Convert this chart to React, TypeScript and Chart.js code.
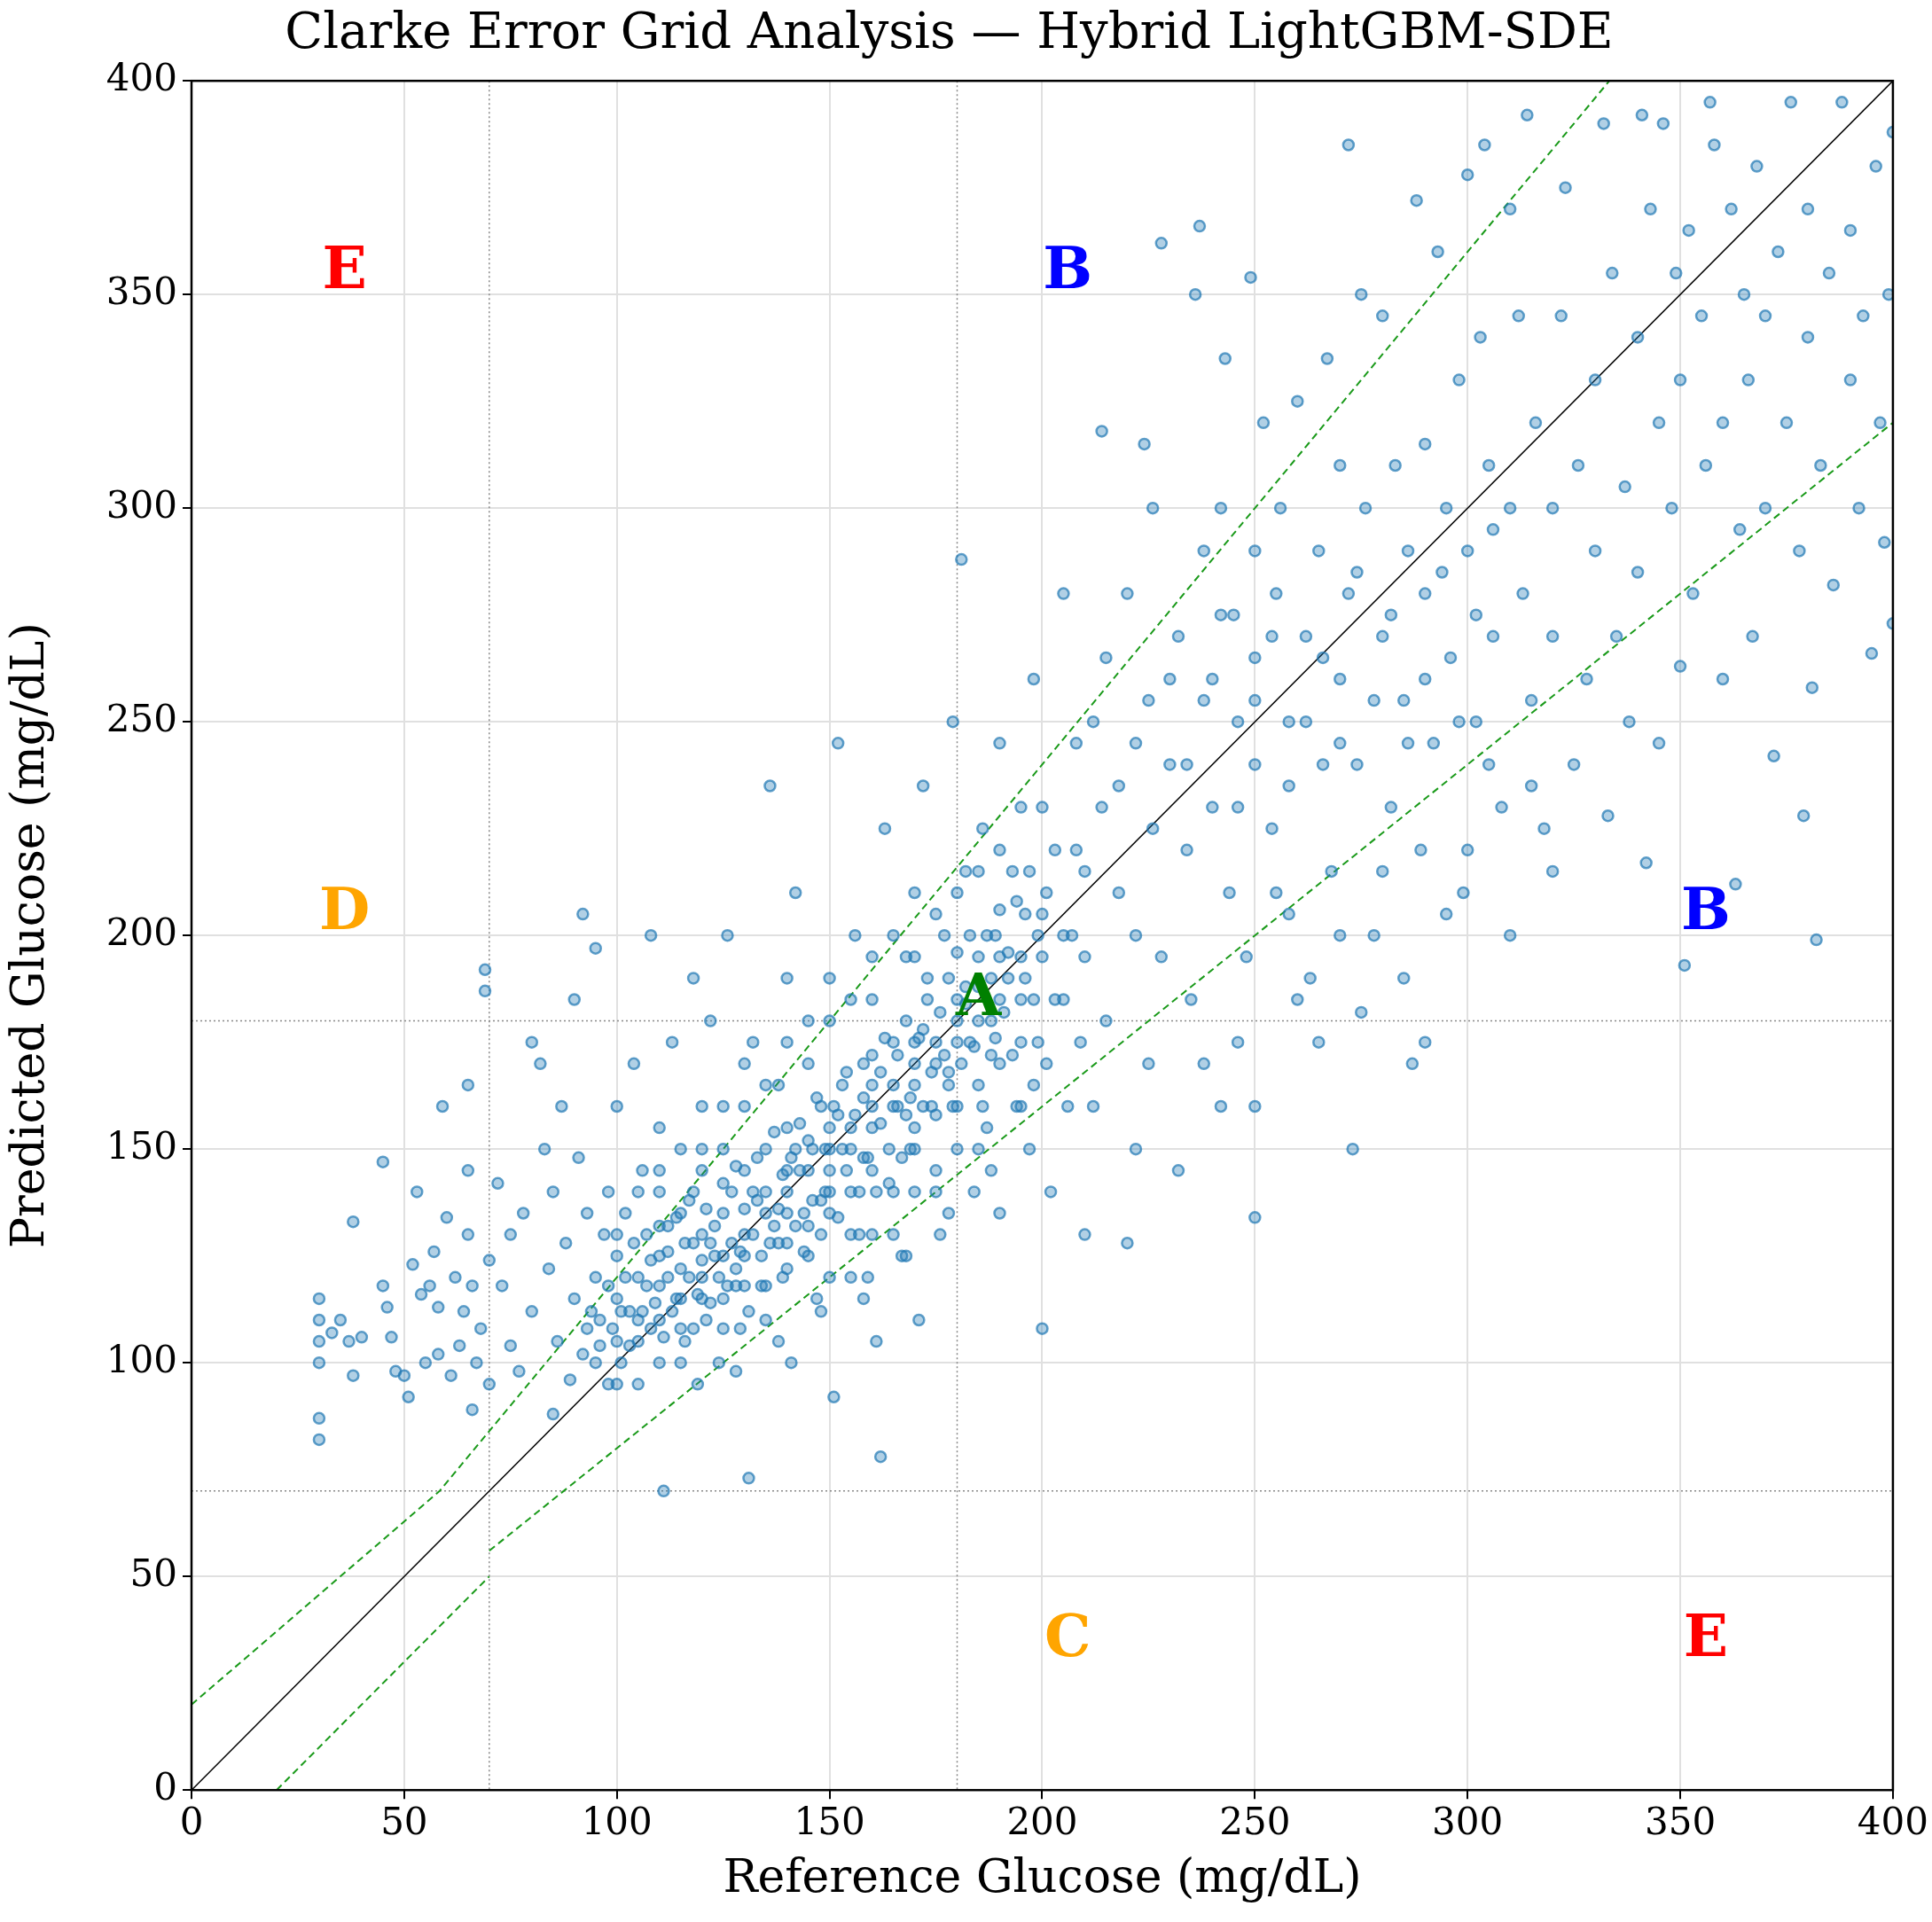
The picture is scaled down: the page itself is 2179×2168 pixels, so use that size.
import React, { useEffect, useRef } from "react";
import { Chart, registerables } from "chart.js";
Chart.register(...registerables);

const title = "Clarke Error Grid Analysis — Hybrid LightGBM-SDE";
const ticks = [0, 50, 100, 150, 200, 250, 300, 350, 400];

const leftPts = [[30,115],[30,110],[30,105],[30,100],[30,87],[30,82],[33,107],[35,110],[37,105],[38,133],[38,97],[40,106],[45,147],[45,118],[46,113],[47,106],[48,98],[50,97],[51,92],[52,123],[53,140],[54,116],[55,100],[56,118],[57,126],[58,113],[58,102],[59,160],[60,134],[61,97],[62,120],[63,104],[64,112],[65,165],[65,145],[65,130],[66,118],[66,89],[67,100],[68,108],[69,192],[69,187],[70,124],[70,95],
[72,142],[73,118],[75,104],[75,130],[77,98],[78,135],[80,112],[80,175],[82,170],[83,150],[84,122],[85,88],[85,140],[86,105],[87,160],[88,128],[89,96],[90,115],[90,185],[92,205],[91,148],[93,135],[95,197],[93,108]];

const corePts = [[95,100],[95,120],[96,110],[97,130],[98,95],[98,140],[100,105],[100,115],[100,125],[100,160],[101,100],[102,135],[103,112],[104,170],[105,120],[105,95],[106,145],[107,130],[108,108],[108,200],[110,118],[110,125],[110,140],[110,155],[110,100],[111,70],[112,132],[113,175],[114,115],[115,122],[115,150],[116,105],[117,138],[118,128],[118,190],[119,95],[120,120],[120,130],[120,145],[120,160],[121,110],[122,180],[123,125],[124,100],[125,135],[125,150],[125,115],[126,200],[127,140],[128,122],[129,108],[130,130],[130,145],[130,160],[130,118],[131,73],[132,175],[133,138],[134,125],[135,150],[135,110],[136,235],[137,132],[138,165],[139,120],[140,140],[140,155],[140,128],[140,190],[141,100],[142,210],[143,145],[144,135],[145,170],[145,125],[146,150],[147,115],[148,160],[149,140],[150,150],[150,135],[150,180],[150,120],[151,92],[152,245],[153,165],[154,145],[155,130],[155,155],[156,200],[157,140],[158,170],[159,120],[160,160],[160,145],[160,185],[160,130],[161,105],[162,78],[163,225],[164,150],[165,175],[165,140],[166,160],[167,125],[168,195],[169,150],[170,170],[170,155],[170,140],[170,210],[171,110],[172,235],[173,185],[174,160],[175,145],[175,175],[176,130],[177,200],[178,165],[179,250],[180,180],[180,160],[180,150],[181,288],[182,215],[183,175],[184,140],[185,195],[185,165],[186,225],[187,155],[188,180],[189,200],[190,170],[190,245],[190,135],[192,190],[193,215],[194,160],[195,185],[196,205],[197,150],[198,260],[199,175],[200,195],[200,108],[200,230],[201,170],[202,140],[203,220],[205,185],[205,280],[206,160],[207,200],[208,245],[209,175],[210,215],[210,130],
[105,105],[115,115],[125,125],[135,135],[145,145],[155,150],[165,165],[175,170],[185,180],[195,195],[110,110],[120,115],[130,125],[140,135],[150,145],[160,155],[170,165],[180,175],[190,185],[100,95],[112,120],[122,128],[132,140],[142,150],[152,158],[162,168],[172,178],[182,188],[118,108],[128,118],[138,128],[148,138],[158,148],[168,158],[178,168],[188,172]];

const denseCorePts = [[92,102],[94,112],[96,104],[98,118],[99,108],[101,112],[102,120],[103,104],[104,128],[106,112],[107,118],[108,124],[109,114],[110,132],[111,106],[112,126],[113,112],[114,134],[115,108],[116,128],[117,120],[118,140],[119,116],[120,124],[121,136],[122,114],[123,132],[124,120],[125,142],[126,118],[127,128],[128,146],[129,126],[130,136],[131,112],[132,130],[133,148],[134,118],[135,140],[136,128],[137,154],[138,136],[139,144],[140,122],[141,148],[142,132],[143,156],[144,126],[145,152],[146,138],[147,162],[148,130],[149,150],[150,140],[151,160],[152,134],[153,150],[154,168],[155,140],[156,158],[157,130],[158,162],[159,148],[160,172],[161,140],[162,156],[163,176],[164,142],[165,160],[166,172],[167,148],[168,180],[169,162],[170,150],[171,176],[172,160],[173,190],[174,168],[175,158],[176,182],[177,172],[178,190],[179,160],[180,196],[181,170],[182,184],[183,200],[184,174],[185,188],[186,160],[187,200],[188,190],[189,176],[190,206],[191,182],[192,196],[193,172],[194,208],[195,175],[196,190],[197,215],[198,185],[199,200],[201,210],[203,185],[205,200],[208,220],[210,195],
[100,130],[105,140],[110,145],[115,135],[120,150],[125,160],[130,170],[135,165],[140,175],[145,180],[150,190],[155,185],[160,195],[165,200],[170,195],[175,205],[180,210],[185,215],[190,220],[195,230],
[105,110],[115,100],[125,108],[135,118],[145,132],[155,120],[165,130],[175,140],[185,150],[195,160],[128,98],[138,105],[148,112],[158,115],[168,125],[178,135],[188,145],[198,165],[140,145],[150,155],[160,165],[170,175],[180,185],[190,195],[200,205]];

const upperPts = [[212,250],[214,318],[215,265],[218,235],[220,280],[222,200],[224,315],[225,255],[226,300],[228,362],[230,240],[232,270],[234,220],[236,350],[237,366],[238,290],[240,260],[240,230],[242,300],[243,335],[244,210],[245,275],[246,250],[248,195],[249,354],[250,290],[250,265],[250,240],[250,134],[252,320],[254,225],[255,280],[256,300],[258,250],[258,205],[260,325],[262,270],[263,190],[265,290],[266,240],[267,335],[268,215],[270,310],[270,260],[272,385],[272,280],[273,150],[274,240],[275,350],[276,300],[278,200],[280,270],[280,345],[282,230],[283,310],[285,255],[286,290],[287,170],[288,372],[289,220],[290,280],[290,315],[292,245],[293,360],[295,300],[296,265],[298,330],[299,210],[300,378],[300,290],[302,250],[303,340],[304,385],[305,310],[306,270],[308,230],[310,370],[310,300],[312,345],[313,280],[314,392],[315,255],[316,320],[318,225],[320,300],[320,270],
[212,160],[215,180],[220,128],[222,150],[225,170],[228,195],[232,145],[235,185],[238,170],[242,160],[246,175],[250,160],[255,210],[260,185],[265,175],[270,200],[275,182],[280,215],[285,190],[290,175],[295,205],[300,220],[305,240],[310,200],[315,235],[320,215],
[214,230],[218,210],[222,245],[226,225],[230,260],[234,240],[238,255],[242,275],[246,230],[250,255],[254,270],[258,235],[262,250],[266,265],[270,245],[274,285],[278,255],[282,275],[286,245],[290,260],[294,285],[298,250],[302,275],[306,295]];

const rightPts = [[322,345],[323,375],[325,240],[326,310],[328,260],[330,330],[330,290],[332,390],[333,228],[334,355],[335,270],[337,305],[338,250],[340,340],[340,285],[341,392],[342,217],[343,370],[345,320],[345,245],[346,390],[348,300],[349,355],[350,263],[350,330],[351,193],[352,365],[353,280],[355,345],[356,310],[357,395],[358,385],[360,320],[360,260],[362,370],[363,212],[364,295],[365,350],[366,330],[367,270],[368,380],[370,345],[370,300],[372,242],[373,360],[375,320],[376,395],[378,290],[379,228],[380,370],[380,340],[381,258],[382,199],[383,310],[385,355],[386,282],[388,395],[390,330],[390,365],[392,300],[393,345],[395,266],[396,380],[397,320],[398,292],[399,350],[400,273],[400,388]];

const identityLine = [[0,0],[400,400]];
const upperLine = [[0,20],[58.33,70],[333.33,400]];
const lowerLineA = [[20,0],[70,50]];
const lowerLineB = [[70,56],[400,320]];
const vLines = [70, 180];
const hLines = [70, 180];
const zones = [
  { t: "E", x: 36, y: 355, c: "#ff0000" },
  { t: "B", x: 206, y: 355, c: "#0000ff" },
  { t: "D", x: 36, y: 205, c: "#ffa500" },
  { t: "A", x: 185, y: 185, c: "#008000" },
  { t: "B", x: 356, y: 205, c: "#0000ff" },
  { t: "C", x: 206, y: 35, c: "#ffa500" },
  { t: "E", x: 356, y: 35, c: "#ff0000" },
];

const toXY = (a: number[][]) => a.map(([x, y]) => ({ x, y }));
const FONT = "'DejaVu Serif', serif";

export default function App() {
  const ref = useRef<HTMLCanvasElement>(null);
  useEffect(() => {
    document.body.style.margin = "0";
    const allPts = [...leftPts, ...corePts, ...denseCorePts, ...upperPts, ...rightPts];
    const lineDs = (data: number[][], color: string, dash: number[], w: number) => ({
      type: "line" as const, data: toXY(data), borderColor: color, borderWidth: w,
      borderDash: dash, pointRadius: 0, fill: false, showLine: true,
    });
    const guides = {
      id: "guides",
      beforeDatasetsDraw(c: any) {
        const { ctx, chartArea: a, scales } = c;
        ctx.save();
        ctx.strokeStyle = "#888"; ctx.lineWidth = 1.5; ctx.setLineDash([2, 3]);
        vLines.forEach((v) => { const px = scales.x.getPixelForValue(v); ctx.beginPath(); ctx.moveTo(px, a.top); ctx.lineTo(px, a.bottom); ctx.stroke(); });
        hLines.forEach((v) => { const py = scales.y.getPixelForValue(v); ctx.beginPath(); ctx.moveTo(a.left, py); ctx.lineTo(a.right, py); ctx.stroke(); });
        ctx.restore();
      },
      afterDatasetsDraw(c: any) {
        const { ctx, scales, chartArea: a } = c;
        ctx.save();
        ctx.font = `bold 66px ${FONT}`; ctx.textAlign = "center"; ctx.textBaseline = "middle";
        zones.forEach((z) => { ctx.fillStyle = z.c; ctx.fillText(z.t, scales.x.getPixelForValue(z.x), scales.y.getPixelForValue(z.y)); });
        ctx.strokeStyle = "#000"; ctx.lineWidth = 2.5; ctx.setLineDash([]);
        ctx.strokeRect(a.left, a.top, a.right - a.left, a.bottom - a.top);
        ctx.restore();
      },
    };
    const chart = new Chart(ref.current!, {
      type: "scatter",
      data: {
        datasets: [
          { data: toXY(allPts), backgroundColor: "rgba(31,119,180,0.35)", borderColor: "rgba(31,119,180,0.7)", borderWidth: 2.5, pointRadius: 6 } as any,
          lineDs(identityLine, "#000", [], 1.5),
          lineDs(upperLine, "#1a9a1a", [8, 5], 2),
          lineDs(lowerLineA, "#1a9a1a", [8, 5], 2),
          lineDs(lowerLineB, "#1a9a1a", [8, 5], 2),
        ],
      },
      options: {
        animation: false, responsive: false, maintainAspectRatio: false,
        layout: { padding: { right: 38, top: 0, bottom: 12 } },
        plugins: {
          legend: { display: false }, tooltip: { enabled: false },
          title: { display: true, text: title, color: "#000", font: { family: FONT, size: 56, weight: "normal" }, padding: { top: 6, bottom: 18 } },
        },
        scales: {
          x: {
            type: "linear", min: 0, max: 400,
            afterBuildTicks: (s: any) => { s.ticks = ticks.map((v) => ({ value: v })); },
            grid: { color: "#e0e0e0", lineWidth: 2, tickColor: "#000", tickLength: 10 },
            border: { display: false },
            ticks: { color: "#000", font: { family: FONT, size: 42 }, padding: 4 },
            title: { display: true, text: "Reference Glucose (mg/dL)", color: "#000", font: { family: FONT, size: 52 }, padding: { top: 2 } },
          },
          y: {
            type: "linear", min: 0, max: 400,
            afterBuildTicks: (s: any) => { s.ticks = ticks.map((v) => ({ value: v })); },
            afterFit: (s: any) => { s.width = 216; },
            grid: { color: "#e0e0e0", lineWidth: 2, tickColor: "#000", tickLength: 10 },
            border: { display: false },
            ticks: { color: "#000", font: { family: FONT, size: 42 }, padding: 6 },
            title: { display: true, text: "Predicted Glucose (mg/dL)", color: "#000", font: { family: FONT, size: 52 }, padding: { bottom: 6 } },
          },
        },
      } as any,
      plugins: [guides],
    });
    return () => chart.destroy();
  }, []);
  return <canvas ref={ref} width={2179} height={2168} style={{ display: "block" }} />;
}
